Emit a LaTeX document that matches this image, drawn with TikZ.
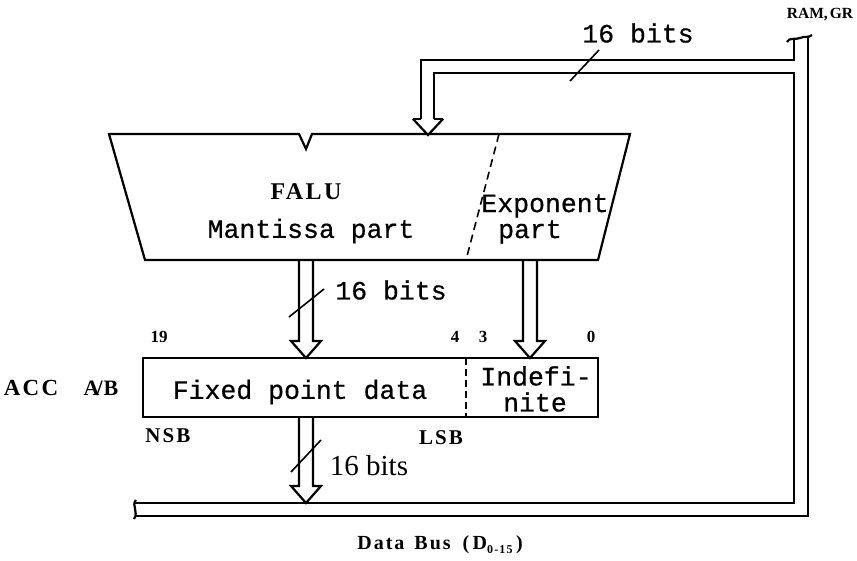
\documentclass[tikz,border=0pt]{standalone}
\usepackage{fontspec}
\setmainfont{Liberation Serif}
\newfontfamily\twfont[FakeBold=0.6]{Liberation Mono}
\newfontfamily\lblfont[LetterSpace=10]{Liberation Serif}
\begin{document}
\begin{tikzpicture}[x=1pt,y=-1pt,
  wire/.style={line width=2.2pt,line join=miter},
  thin wire/.style={line width=1.6pt},
  divider/.style={line width=1.6pt,dash pattern=on 8pt off 5pt},
  tw/.style={font=\twfont\fontsize{26.5}{28}\selectfont,inner sep=0pt},
  bold label/.style={font=\lblfont\bfseries\fontsize{#1}{#1}\selectfont,inner sep=0pt},
  digit label/.style={font=\bfseries\fontsize{17}{17}\selectfont,inner sep=0pt},
  serif label/.style={font=\fontsize{29}{30}\selectfont,inner sep=0pt},
  pics/hollowdown/.style={code={
    \draw[wire] (-7,-#1) -- (-7,-17) -- (-15,-17) -- (0,0) -- (15,-17) -- (7,-17) -- (7,-#1);
  }},
]
\useasboundingbox (0,0) rectangle (857,560);

% ---- key points ----
\coordinate (faluIn)   at (428,135);
\coordinate (accInL)   at (306,358);
\coordinate (accInR)   at (530,358);
\coordinate (busIn)    at (306,503);

% ---- FALU (trapezoid with notch) ----
\draw[wire] (109,134) -- (299,134) -- (306,149) -- (312,134) -- (630,134)
  -- (598,260) -- (145,260) -- cycle;
\draw[divider] (499,134) -- (466,260);
\node[bold label=24] (falu) at (306,192) {FALU};
\node[tw] (mant) at (311,231) {Mantissa part};
\node[tw] (expo) at (545,206) {Exponent};
\node[tw] (expart) at (530,232) {part};

% ---- accumulator register ----
\draw[wire] (143,358) rectangle (598,417);
\draw[line width=1.4pt,dash pattern=on 7pt off 4pt] (466,358) -- (466,417);
\node[tw] (fixed) at (300,392) {Fixed point data};
\node[tw] (indef) at (536,376) {Indefi-};
\node[tw] (nite)  at (535,402) {nite};
\node[digit label] (b19) at (159,337) {19};
\node[digit label] (b4)  at (455,337) {4};
\node[digit label] (b3)  at (483,337) {3};
\node[digit label] (b0)  at (591,337) {0};
\node[bold label=21] (nsb) at (168,436) {NSB};
\node[bold label=21] (lsb) at (441,438) {LSB};
\node[bold label=23] (acc) at (31,388) {ACC};
\node[font=\bfseries\fontsize{22}{22}\selectfont,inner sep=0pt] (ab) at (101,388) {A\kern-3pt/\kern1pt B};

% ---- hollow data arrows ----
\pic at (accInL) {hollowdown=98};
\pic at (accInR) {hollowdown=98};
\pic at (busIn)  {hollowdown=86};

% ---- bus from RAM / GR into FALU ----
\draw[wire] (421,119) -- (421,60) -- (794,60) -- (794,39);
\draw[wire] (434,119) -- (434,73) -- (794,73) -- (794,503) -- (135,503);
\draw[wire] (808,37) -- (808,516) -- (135,516);
\draw[wire] (413,119) -- (421,119) (434,119) -- (443,119);
\draw[wire] (413,119) -- (faluIn) -- (443,119);
% broken ends of the buses
\draw[wire] (787,42) .. controls (789,37) and (796,40) .. (800,38)
  .. controls (804,36) and (809,38) .. (812,35);
\draw[wire] (136,500) .. controls (131,505) and (139,512) .. (134,519);

% ---- width ticks and labels ----
\draw[thin wire] (570,81) -- (599,50);
\node[tw] (bitsTop) at (638,33) {16 bits};
\draw[thin wire] (289,317) -- (324,289);
\node[tw] (bitsMid) at (391,290) {16 bits};
\draw[thin wire] (291,472) -- (321,440);
\node[serif label] (bitsLow) at (369,466) {16 bits};

\node[font=\bfseries\fontsize{15.5}{16}\selectfont,inner sep=0pt] (ram) at (820,15) {RAM,\kern2pt GR};
\node[bold label=20] (dbus) at (440,545) {Data\hspace{10pt}Bus\hspace{12pt}(\,D\raisebox{-4pt}{\fontsize{12}{12}\selectfont 0-15}\,)};
\end{tikzpicture}
\end{document}
